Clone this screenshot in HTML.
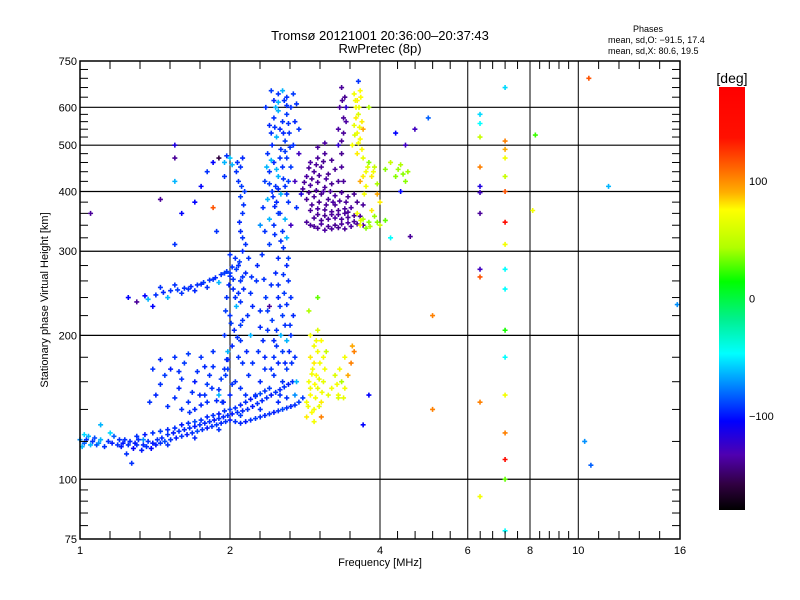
<!DOCTYPE html>
<html><head><meta charset="utf-8">
<style>
body{margin:0;background:#fff;}
svg{display:block;font-family:"Liberation Sans",sans-serif;}
</style></head>
<body>
<svg id="chart" width="800" height="600" viewBox="0 0 800 600" xmlns="http://www.w3.org/2000/svg">
<defs>
<linearGradient id="cbar" x1="0" y1="0" x2="0" y2="1">
<stop offset="0" stop-color="#ff0000"/>
<stop offset="0.12" stop-color="#ff1000"/>
<stop offset="0.2" stop-color="#ff7000"/>
<stop offset="0.25" stop-color="#ffb000"/>
<stop offset="0.29" stop-color="#ffff00"/>
<stop offset="0.38" stop-color="#b0ff00"/>
<stop offset="0.46" stop-color="#00ff00"/>
<stop offset="0.55" stop-color="#00f090"/>
<stop offset="0.63" stop-color="#00ffff"/>
<stop offset="0.7" stop-color="#0090ff"/>
<stop offset="0.79" stop-color="#0000ff"/>
<stop offset="0.87" stop-color="#5000b0"/>
<stop offset="0.94" stop-color="#300040"/>
<stop offset="1" stop-color="#000000"/>
</linearGradient>
</defs>
<text x="380" y="40" font-size="13" text-anchor="middle">Tromsø 20121001 20:36:00–20:37:43</text>
<text x="380" y="53" font-size="13" text-anchor="middle">RwPretec (8p)</text>
<text x="648" y="32" font-size="9" text-anchor="middle">Phases</text>
<text x="608" y="43" font-size="9">mean, sd,O: −91.5, 17.4</text>
<text x="608" y="54" font-size="9">mean, sd,X:  80.6, 19.5</text>
<g id="grid"></g>
<g id="points"></g>
<rect x="80" y="61" width="600" height="478" fill="none" stroke="#000" stroke-width="1.5"/>
<g id="axes"></g>
<text x="380" y="566" font-size="11" text-anchor="middle">Frequency [MHz]</text>
<text transform="translate(48,300) rotate(-90)" font-size="11" text-anchor="middle">Stationary phase Virtual Height [km]</text>
<rect x="719" y="87" width="26" height="423" fill="url(#cbar)"/>
<text x="732" y="83" font-size="14" text-anchor="middle">[deg]</text>
<g id="cbticks"></g>
</svg>
<script>
const xMajor = [1,2,4,6,8,10,16];
const xGrid = [2,4,6,8,10];
const yMajor = [75,100,200,300,400,500,600,750];
const yGrid = [100,200,300,400,500,600];
const cbTicks = [100,0,-100];
// [freq MHz, height km, phase deg]
const traceE = [[1.0,121,-70],[1.02,119,-80],[1.04,123,-60],[1.06,120,-90],[1.08,118,-85],[1.1,121,-60],[1.02,124,-50],[1.12,117,-90],[1.17,123,-80],[1.2,121,-90],[1.22,119,-95],[1.25,118,-90],[1.28,116,-100],[1.3,118,-90],[1.33,115,-95],[1.36,117,-90],[1.39,116,-100],[1.42,118,-95],[1.45,119,-90],[1.48,120,-85],[1.52,121,-90],[1.56,122,-95],[1.6,123,-90],[1.64,124,-95],[1.68,125,-90],[1.72,126,-85],[1.76,127,-90],[1.8,128,-95],[1.84,129,-90],[1.88,130,-88],[1.92,131,-92],[1.96,132,-90],[2.0,133,-95],[2.05,132,-90],[2.1,131,-92],[2.15,132,-95],[2.2,133,-90],[2.25,134,-88],[2.3,135,-90],[2.35,136,-92],[2.4,137,-90],[2.45,138,-95],[2.5,139,-90],[2.55,140,-85],[2.6,141,-90],[2.65,142,-92],[2.7,143,-90],[2.75,145,-88],[1.3,123,-90],[1.35,124,-95],[1.4,125,-90],[1.45,126,-88],[1.5,127,-92],[1.55,128,-90],[1.6,130,-95],[1.65,131,-90],[1.7,132,-85],[1.75,133,-90],[1.8,135,-92],[1.85,136,-90],[1.9,137,-95],[1.95,139,-90],[2.0,140,-88],[2.05,141,-90],[2.1,143,-92],[2.15,145,-90],[2.2,147,-95],[2.25,149,-90],[2.3,151,-85],[2.35,153,-90],[1.24,113,-90],[1.34,121,-70],[1.5,118,-90],[1.7,122,-92],[1.9,127,-90],[2.1,136,-88],[2.3,140,-90],[2.5,145,-92],[2.6,148,-90],[2.7,150,-70],[2.8,148,-88]];
const traceE2 = [[1.01,117,-60],[1.03,121,-90],[1.05,118,-60],[1.07,122,-85],[1.09,119,-70],[1.14,120,-90],[1.16,119,-95],[1.19,118,-90],[1.21,117,-95],[1.23,121,-90],[1.26,120,-92],[1.29,119,-95],[1.31,121,-90],[1.34,118,-92],[1.37,120,-90],[1.4,119,-95],[1.43,121,-90],[1.46,122,-92],[1.5,124,-90],[1.54,125,-95],[1.58,126,-90],[1.62,127,-92],[1.66,128,-90],[1.7,129,-95],[1.74,130,-90],[1.78,131,-92],[1.82,132,-90],[1.86,133,-95],[1.9,134,-90],[1.94,135,-92],[1.98,136,-90],[2.02,137,-95],[2.07,138,-90],[2.12,139,-92],[2.17,140,-90],[2.22,142,-95],[2.27,144,-90],[2.32,146,-92],[2.37,148,-90],[2.42,150,-95],[2.47,152,-90],[2.52,154,-92],[2.57,156,-90],[2.62,158,-95],[2.67,160,-90]];
const cloudLow = [[1.38,145,-90],[1.42,150,-92],[1.45,158,-90],[1.48,165,-88],[1.5,142,-90],[1.52,170,-95],[1.55,148,-90],[1.58,155,-92],[1.6,162,-90],[1.62,175,-88],[1.65,145,-90],[1.68,152,-90],[1.7,160,-95],[1.72,168,-90],[1.75,143,-92],[1.78,150,-90],[1.8,158,-88],[1.82,165,-90],[1.85,172,-90],[1.88,146,-92],[1.9,154,-90],[1.92,162,-88],[1.95,170,-90],[1.98,178,-95],[1.4,170,-90],[1.45,178,-92],[1.55,180,-90],[1.65,183,-88],[1.75,180,-90],[1.85,185,-90],[1.6,140,-90],[1.7,140,-92],[1.8,145,-90],[1.9,150,-60],[1.66,138,-90],[1.74,150,-92],[1.84,155,-90],[1.94,145,-95],[1.58,168,-90],[1.78,172,-92]];
const colF2low = [[1.93,145,-90],[2.0,150,-92],[2.05,160,-90],[1.98,170,-88],[2.08,180,-90],[2.02,190,-92],[1.95,200,-90],[2.1,210,-88],[2.0,220,-90],[2.06,230,-60],[1.97,240,-90],[2.03,250,-92],[2.1,260,-90],[2.0,270,-88],[2.08,280,-90],[2.05,290,-90],[2.12,300,-92],[2.1,155,-90],[1.96,165,-88],[2.12,175,-90],[1.98,185,-60],[2.1,195,-90],[2.04,205,-92],[2.12,215,-90],[1.96,225,-88],[2.1,235,-90],[2.08,245,-90],[1.99,255,-92],[2.12,265,-90],[2.06,275,-88],[2.0,295,-90],[2.15,310,-90],[2.1,330,-92],[2.12,360,-90],[2.1,390,-88],[2.08,420,-90],[2.1,450,-90],[2.12,470,-92],[2.06,440,-90],[2.14,400,-88],[2.15,150,-90],[2.18,165,-90],[2.16,185,-92],[2.2,200,-60],[2.17,220,-90],[2.2,245,-90],[2.15,270,-92],[2.18,290,-90],[1.95,460,-60],[2.0,470,-55],[2.02,455,-60],[1.97,475,-90],[2.02,158,-90],[1.97,178,-92],[2.07,198,-90],[2.01,212,-88],[2.05,240,-90],[2.13,250,-92],[2.03,262,-90],[2.09,285,-88],[2.12,320,-90],[2.09,345,-92],[2.13,375,-90],[2.11,410,-88],[2.07,460,-90],[2.22,175,-90],[2.22,230,-92],[2.21,265,-90]];
const colF2mid = [[2.25,150,-90],[2.3,160,-92],[2.35,170,-90],[2.4,155,-88],[2.45,165,-90],[2.5,175,-92],[2.55,160,-90],[2.6,170,-88],[2.28,185,-90],[2.33,195,-92],[2.38,205,-90],[2.43,215,-88],[2.48,190,-90],[2.53,200,-60],[2.58,210,-90],[2.63,185,-92],[2.3,225,-90],[2.36,240,-88],[2.42,255,-90],[2.47,270,-92],[2.52,230,-90],[2.57,245,-88],[2.62,260,-90],[2.27,280,-92],[2.32,295,-90],[2.4,310,-88],[2.46,325,-90],[2.5,290,-92],[2.56,305,-90],[2.6,320,-60],[2.65,200,-90],[2.68,220,-92],[2.7,180,-90],[2.72,160,-60],[2.26,260,-90],[2.35,180,-92],[2.45,180,-90],[2.55,185,-88],[2.65,240,-90],[2.4,230,-130],[2.5,255,-90],[2.6,280,-92],[2.52,150,-90],[2.58,175,-92],[2.48,205,-90],[2.55,220,-88],[2.6,232,-90],[2.5,240,-92],[2.56,268,-90],[2.62,290,-88],[2.53,315,-90],[2.45,195,-92],[2.42,170,-90],[2.38,225,-88],[2.34,262,-90],[2.3,208,-92],[2.64,210,-90],[2.6,195,-60],[2.66,175,-90]];
const upperF2 = [[2.3,340,-70],[2.35,330,-90],[2.4,350,-60],[2.45,340,-90],[2.5,360,-88],[2.33,370,-90],[2.38,385,-60],[2.43,400,-90],[2.48,380,-92],[2.53,395,-60],[2.58,410,-90],[2.35,420,-88],[2.4,440,-90],[2.45,460,-92],[2.5,430,-60],[2.55,450,-90],[2.6,470,-88],[2.38,480,-90],[2.43,500,-92],[2.48,520,-60],[2.53,490,-90],[2.58,510,-88],[2.63,530,-90],[2.4,550,-92],[2.45,570,-90],[2.5,590,-60],[2.55,560,-90],[2.6,580,-88],[2.65,600,-90],[2.45,620,-92],[2.5,640,-90],[2.55,650,-60],[2.6,630,-90],[2.68,640,-88],[2.72,610,-90],[2.7,560,-92],[2.68,500,-90],[2.65,450,-88],[2.7,420,-120],[2.62,380,-90],[2.58,350,-60],[2.55,330,-90],[2.65,340,-120],[2.72,370,-90],[2.75,480,-120],[2.75,540,-90],[2.36,600,-90],[2.42,650,-88],[2.47,600,-60],[2.57,620,-90],[2.52,540,-92],[2.42,530,-90],[2.37,450,-60],[2.47,410,-90],[2.62,420,-88],[2.44,390,-90],[2.5,405,-92],[2.56,425,-90],[2.42,465,-60],[2.52,470,-90],[2.58,485,-88],[2.46,545,-90],[2.56,530,-92],[2.62,555,-90],[2.5,615,-60],[2.6,605,-90],[2.52,360,-90],[2.46,372,-92],[2.6,395,-90],[2.4,415,-88],[2.48,445,-60],[2.64,495,-90]];
const purple = [[2.9,340,-130],[3.0,335,-130],[3.1,332,-128],[3.2,334,-130],[3.3,336,-132],[3.4,334,-130],[3.5,338,-128],[3.6,342,-130],[3.7,340,-130],[2.95,352,-130],[3.05,348,-132],[3.15,350,-130],[3.25,352,-128],[3.35,350,-130],[3.45,353,-130],[3.55,356,-132],[2.9,365,-130],[3.0,368,-128],[3.1,366,-130],[3.2,363,-130],[3.3,365,-132],[3.4,368,-130],[3.5,370,-128],[2.85,385,-130],[2.95,390,-130],[3.05,395,-132],[3.15,385,-130],[3.25,392,-128],[3.35,398,-130],[3.45,390,-130],[3.55,395,-132],[2.8,405,-130],[2.9,412,-128],[3.0,418,-130],[3.1,408,-130],[3.2,415,-132],[3.3,420,-130],[2.85,430,-128],[2.95,440,-130],[3.05,450,-130],[3.15,435,-132],[3.25,445,-130],[2.9,460,-128],[3.0,470,-130],[3.1,480,-130],[3.2,465,-132],[3.0,495,-130],[3.1,505,-128],[3.35,450,-130],[3.35,480,-132],[3.35,510,-130],[3.3,540,-128],[3.38,570,-130],[3.32,600,-130],[3.4,630,-132],[3.35,660,-130],[3.42,600,-115],[3.3,500,-115],[3.38,420,-130],[3.6,380,-132],[3.7,375,-130],[2.85,345,-130],[3.45,362,-130],[3.25,375,-130],[3.65,355,-130],[2.78,395,-110],[2.95,338,-130],[3.05,342,-128],[3.15,338,-130],[3.25,340,-132],[3.35,342,-130],[3.45,344,-128],[3.55,346,-130],[3.0,358,-130],[3.1,356,-132],[3.2,358,-130],[3.3,358,-128],[3.4,360,-130],[2.92,375,-130],[3.02,380,-132],[3.12,375,-130],[3.22,380,-128],[3.32,382,-130],[3.42,380,-130],[2.88,398,-132],[2.98,402,-130],[3.08,400,-128],[3.18,400,-130],[2.82,418,-130],[2.92,425,-132],[3.02,432,-130],[3.12,425,-128],[2.88,448,-130],[2.98,455,-130],[3.08,462,-132],[3.38,530,-130],[3.42,560,-128],[3.36,620,-130]];
const yellow = [[3.55,640,100],[3.6,620,110],[3.65,650,105],[3.58,600,100],[3.62,580,90],[3.68,560,110],[3.55,550,95],[3.6,530,100],[3.65,515,105],[3.7,540,130],[3.52,500,100],[3.6,480,110],[3.7,470,95],[3.8,460,60],[3.75,440,100],[3.85,430,110],[3.9,450,80],[3.65,420,130],[3.75,410,100],[3.95,415,70],[4.1,445,60],[4.2,460,80],[4.3,430,60],[4.4,455,70],[4.5,420,60],[4.55,440,65],[3.6,360,100],[3.7,350,70],[3.8,345,60],[3.9,355,65],[4.0,340,80],[3.75,335,60],[3.65,340,100],[4.1,348,50],[3.85,365,110],[3.95,395,130],[4.0,380,110],[3.72,395,100],[3.8,600,70],[3.57,620,100],[3.63,600,95],[3.66,630,105],[3.58,570,110],[3.64,545,100],[3.56,525,90],[3.62,505,100],[3.68,490,105],[3.78,450,90],[3.88,440,100],[3.7,430,110],[4.45,435,60],[4.35,445,65],[3.66,348,90],[3.82,338,70],[3.95,345,60]];
const yellowLow = [[2.85,145,100],[2.9,150,105],[2.95,140,100],[3.0,155,95],[3.05,145,110],[2.88,160,100],[2.93,170,100],[2.98,165,105],[3.03,175,100],[3.08,160,95],[2.9,180,110],[2.95,190,100],[3.0,185,100],[3.05,195,105],[3.1,170,100],[3.15,150,95],[2.85,135,110],[2.95,132,100],[3.05,135,140],[3.2,155,100],[3.25,165,90],[3.3,150,100],[3.35,160,70],[3.4,155,100],[3.45,165,130],[3.5,175,140],[3.4,180,100],[3.3,148,90],[3.12,185,80],[2.9,200,100],[3.0,205,90],[2.88,225,70],[3.55,185,140],[3.52,190,130],[2.87,142,100],[2.92,138,105],[2.97,148,100],[3.02,142,95],[2.9,155,100],[2.96,158,105],[3.06,152,100],[2.92,166,100],[3.02,162,95],[2.95,175,110],[3.08,180,100],[2.98,195,100],[3.28,158,100],[3.38,148,95],[3.32,170,100]];
const sporadic = [[7.13,660,-50],[7.13,510,140],[7.13,490,130],[7.13,470,100],[7.13,430,80],[7.13,400,150],[7.13,345,170],[7.13,310,100],[7.13,275,-40],[7.13,250,-40],[7.13,205,30],[7.13,180,-40],[7.13,150,100],[7.13,125,140],[7.13,110,170],[7.13,100,50],[7.13,78,-40],[6.35,580,-50],[6.35,555,-40],[6.35,520,80],[6.35,450,140],[6.35,410,-110],[6.35,398,-120],[6.35,360,-130],[6.35,275,-120],[6.35,265,150],[6.35,145,140],[6.35,92,100],[8.2,525,40],[8.1,365,100],[10.5,690,150],[10.3,120,-70],[10.6,107,-80],[5.1,220,140],[5.1,140,140],[5.0,570,-80],[15.8,232,-70],[11.5,410,-60],[4.7,540,-120],[4.5,500,-120],[4.3,530,-100],[4.4,400,-100],[4.6,322,-130],[1.05,360,-130],[1.55,500,-110],[1.55,470,-130],[1.55,420,-60],[1.45,385,-130],[1.6,360,-100],[1.7,380,-100],[1.75,410,-100],[1.8,440,-90],[1.85,460,-100],[1.9,470,-150],[1.55,310,-90],[1.85,370,150],[1.95,430,-90],[1.88,330,-90],[1.3,235,-130],[1.35,242,-100],[1.25,240,-100],[1.4,230,-100],[1.1,130,-60],[1.15,125,-50],[1.27,108,-90],[3.0,240,50],[4.2,320,-40],[3.62,680,-90],[3.8,150,-100],[3.7,130,-100]];
const traceMid = [[1.42,243,-90],[1.47,246,-92],[1.52,248,-90],[1.57,249,-88],[1.62,251,-90],[1.67,253,-92],[1.72,255,-90],[1.77,258,-88],[1.82,261,-90],[1.87,264,-92],[1.92,268,-90],[1.97,272,-88],[2.02,278,-90],[1.6,245,-90],[1.7,248,-92],[1.8,252,-90],[1.9,258,-60],[2.0,266,-90],[1.5,240,-60],[1.45,252,-90],[1.37,238,-60],[1.55,255,-90],[1.65,250,-90],[1.75,256,-92],[1.85,262,-90],[1.95,270,-88]];
const groups = [traceE, traceE2, cloudLow, colF2low, colF2mid, upperF2, purple, yellow, yellowLow, sporadic, traceMid];
const groupNames = ['trace-e','trace-e-upper','cloud-low','column-f2-low','column-f2-mid','upper-f2','purple-cluster','yellow-upper','yellow-low','sporadic','trace-mid'];

const X0=80,X1=680,Y0=61,Y1=539;
function xScale(f){return X0+(X1-X0)*Math.log(f)/Math.log(16);}
function yScale(h){return Y0+(Y1-Y0)*Math.log10(750/h);}
function phaseColor(p){
  const stops=[[-180,[0,0,0]],[-150,[48,0,64]],[-125,[80,0,176]],[-100,[0,0,255]],[-70,[0,144,255]],[-40,[0,255,255]],[0,[0,240,144]],[25,[0,255,0]],[70,[176,255,0]],[105,[255,255,0]],[135,[255,150,0]],[165,[255,16,0]],[180,[255,0,0]]];
  for(let i=1;i<stops.length;i++){if(p<=stops[i][0]){const a=stops[i-1],b=stops[i];const t=(p-a[0])/(b[0]-a[0]);const c=a[1].map((v,k)=>Math.round(v+(b[1][k]-v)*t));return 'rgb('+c.join(',')+')';}}
  return 'rgb(255,0,0)';
}
const NS='http://www.w3.org/2000/svg';
function mk(tag,attrs,parent){const e=document.createElementNS(NS,tag);for(const k in attrs)e.setAttribute(k,attrs[k]);parent.appendChild(e);return e;}
const grid=document.getElementById('grid'), axes=document.getElementById('axes'), pts=document.getElementById('points'), cbt=document.getElementById('cbticks');
xGrid.forEach(f=>{const x=xScale(f);const l=mk('line',{x1:x,x2:x,y1:Y0,y2:Y1,stroke:'#000','stroke-width':1},grid);

});
yGrid.forEach(h=>{const y=yScale(h);const l=mk('line',{x1:X0,x2:X1,y1:y,y2:y,stroke:'#000','stroke-width':1.2},grid);

});
for(let i=0;i<xMajor.length-1;i++){const a=xScale(xMajor[i]),b=xScale(xMajor[i+1]);for(let k=1;k<5;k++){const x=a+(b-a)*k/5;
const t1=mk('line',{x1:x,x2:x,y1:Y1,y2:Y1-8,stroke:'#000','stroke-width':1},axes);


const t2=mk('line',{x1:x,x2:x,y1:Y0,y2:Y0+8,stroke:'#000','stroke-width':1},axes);

}}
for(let i=0;i<yMajor.length-1;i++){const a=yMajor[i],b=yMajor[i+1];for(let k=1;k<5;k++){const y=yScale(a+(b-a)*k/5);
const t1=mk('line',{x1:X0,x2:X0+8,y1:y,y2:y,stroke:'#000','stroke-width':1},axes);


const t2=mk('line',{x1:X1,x2:X1-8,y1:y,y2:y,stroke:'#000','stroke-width':1},axes);

}}
xMajor.forEach(f=>{const t=mk('text',{x:xScale(f),y:554,'font-size':11,'text-anchor':'middle'},axes);t.textContent=f;

});
yMajor.forEach(h=>{const t=mk('text',{x:77,y:yScale(h)+4,'font-size':11,'text-anchor':'end'},axes);t.textContent=h;

});
cbTicks.forEach(p=>{const y=87+(180-p)/360*423;const t=mk('text',{x:749,y:y+4,'font-size':11},cbt);t.textContent=p<0?'−'+(-p):p;

});
groups.forEach((g,gi)=>{const gg=mk('g',{},pts);


g.forEach(d=>{const x=xScale(d[0]),y=yScale(d[1]);const p=mk('path',{d:'M'+(x-2.5)+' '+y+'h5M'+x+' '+(y-2.5)+'v5',stroke:phaseColor(d[2]),'stroke-width':1.6,fill:'none'},gg);

});});
</script>
</body></html>
